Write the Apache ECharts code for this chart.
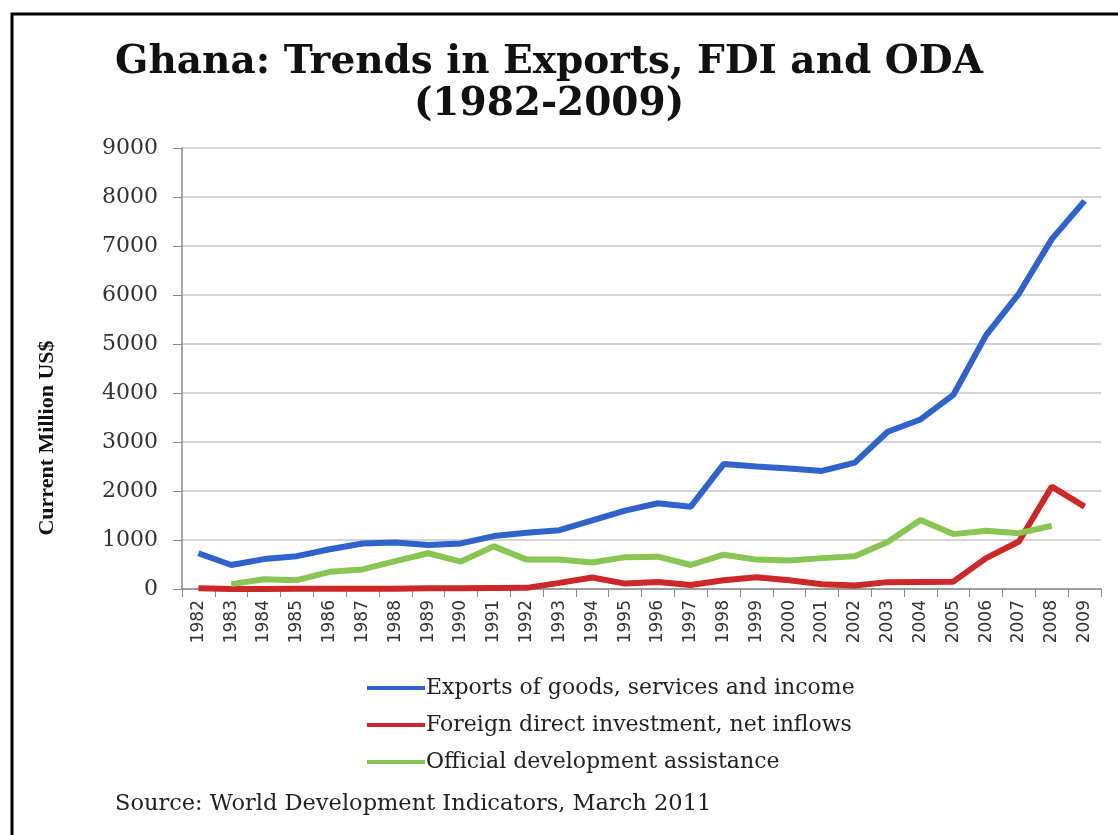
<!DOCTYPE html>
<html>
<head>
<meta charset="utf-8">
<script src="https://cdn.jsdelivr.net/npm/echarts@6/dist/echarts.min.js"></script>
<style>
html,body{margin:0;padding:0;background:#fff;}
#chart{width:1118px;height:835px;}
</style>
</head>
<body>
<div id="chart"></div>
<script>
const years = ['1982','1983','1984','1985','1986','1987','1988','1989','1990','1991','1992','1993','1994','1995','1996','1997','1998','1999','2000','2001','2002','2003','2004','2005','2006','2007','2008','2009'];
const exportsData = [730,490,610,670,810,930,950,900,930,1080,1150,1200,1400,1600,1750,1680,2550,2500,2460,2410,2580,3210,3460,3960,5180,6030,7140,7920];
const fdiData = [16,2,2,6,4,5,5,15,15,20,23,125,235,110,145,80,180,240,180,95,70,140,145,150,630,970,2090,1680];
const odaData = [null,100,200,180,350,400,570,730,560,870,600,600,540,650,660,490,700,600,580,630,670,960,1410,1120,1190,1140,1290,null];
const yTicks = {min:0, max:9000, interval:1000};
const seriesNames = ['Exports of goods, services and income','Foreign direct investment, net inflows','Official development assistance'];

const chart = echarts.init(document.getElementById('chart'));
const serif = 'DejaVu Serif';
chart.setOption({
  animation:false,
  backgroundColor:'#fff',
  graphic:[
    {type:'rect', shape:{x:12,y:14,width:1200,height:900}, style:{fill:'none', stroke:'#000', lineWidth:3}, silent:true},
    {type:'text', x:549, y:42,
     style:{text:'Ghana: Trends in Exports, FDI and ODA\n(1982-2009)', font:'bold 39px "DejaVu Serif"', lineHeight:42, fill:'#111', align:'center', verticalAlign:'top'}},
    {type:'text', left:115, top:793, style:{text:'Source: World Development Indicators, March 2011', font:'22.5px "DejaVu Serif"', fill:'#222'}},
    {type:'text', x:47, y:438, rotation:Math.PI/2,
     style:{text:'Current Million US$', font:'bold 22px "Liberation Sans Narrow"', fill:'#111', align:'center', verticalAlign:'middle'}}
  ],
  legend:{
    orient:'vertical', left:362, top:672,
    itemWidth:58, itemHeight:20, itemGap:15,
    data:seriesNames.map(n=>({name:n, icon:'path://M0,8 L58,8 L58,12 L0,12 Z'})),
    textStyle:{fontFamily:serif, fontSize:22, color:'#222', padding:[0,0,0,-4]}
  },
  grid:{left:182, right:17, top:148, bottom:246},
  xAxis:{
    type:'category', data:years, boundaryGap:true,
    axisLine:{lineStyle:{color:'#8a8a8a', width:1.5}},
    axisTick:{show:true, alignWithLabel:false, length:8, interval:0, lineStyle:{color:'#8a8a8a'}},
    axisLabel:{rotate:90, interval:0, margin:11, fontFamily:'DejaVu Sans', fontSize:17, color:'#333'}
  },
  yAxis:{
    type:'value', min:yTicks.min, max:yTicks.max, interval:yTicks.interval,
    axisLine:{show:true, lineStyle:{color:'#8a8a8a', width:1.5}},
    axisTick:{show:true, inside:false, length:9, lineStyle:{color:'#8a8a8a'}},
    splitLine:{lineStyle:{color:'#d4d4d4', width:2}},
    axisLabel:{margin:24, fontFamily:serif, fontSize:22, color:'#333', formatter:v=>String(v)}
  },
  series:[
    {name:seriesNames[0], type:'line', data:exportsData, symbol:'none', lineStyle:{color:'#2f62cb', width:6}, itemStyle:{color:'#2f62cb'}},
    {name:seriesNames[1], type:'line', data:fdiData, symbol:'none', lineStyle:{color:'#cc2828', width:6}, itemStyle:{color:'#cc2828'}},
    {name:seriesNames[2], type:'line', data:odaData, symbol:'none', lineStyle:{color:'#88c552', width:6}, itemStyle:{color:'#88c552'}}
  ]
});
</script>
</body>
</html>
